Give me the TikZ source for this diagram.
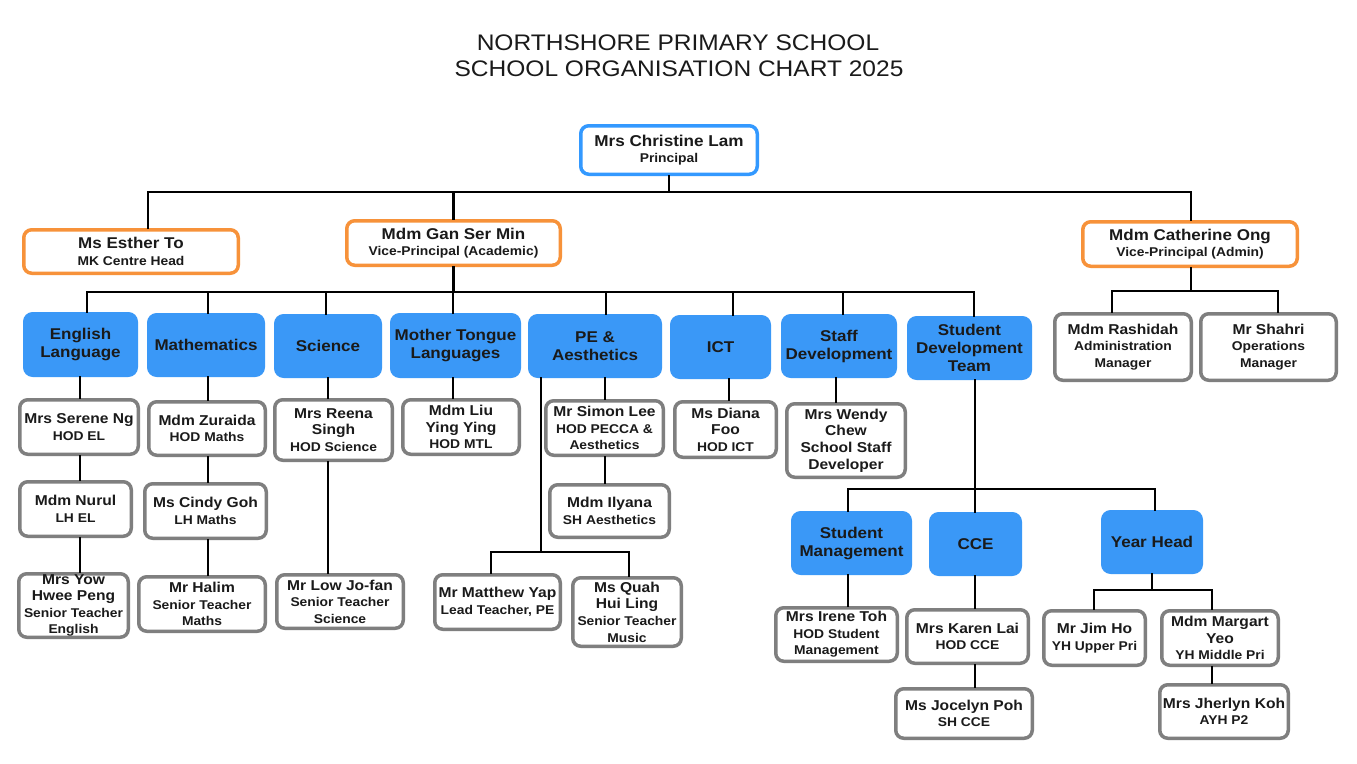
\documentclass[tikz,border=0pt]{standalone}
\usepackage{fontspec}
\setmainfont{Liberation Sans}[FakeStretch=1.09]
\definecolor{pblue}{HTML}{3399FF}
\definecolor{dblue}{HTML}{3A98F7}
\definecolor{orng}{HTML}{F7923A}
\definecolor{gry}{HTML}{7F7F7F}
\definecolor{ink}{HTML}{1A1A1A}
\newcommand{\nmf}{\fontsize{14.3}{16.6}\selectfont}
\newcommand{\rlf}{\fontsize{12.7}{14.5}\selectfont}
\newcommand{\vpf}{\fontsize{15.6}{17}\selectfont}
\newcommand{\dpf}{\fontsize{15.6}{18}\selectfont}
\newcommand{\mkbox}[7]{\node[#1, minimum width={(#5-(#3)-3.5)*1pt}, minimum height={(#6-(#4)-3.5)*1pt}] (#2) at ({(#3+#5)/2},{(#4+#6)/2}) {#7};}
\tikzset{
  basebox/.style={line width=3.5pt, rounded corners=8pt, align=center, inner sep=0pt, text=ink, font=\bfseries\nmf},
  pbox/.style={basebox, draw=pblue, fill=white},
  obox/.style={basebox, draw=orng, fill=white},
  gbox/.style={basebox, draw=gry, fill=white},
  dept/.style={basebox, draw=dblue, fill=dblue, font=\bfseries\dpf},
  conn/.style={draw=black, line width=2.7pt, line cap=rect},
}
\begin{document}
\begin{tikzpicture}[x=1pt,y=-1pt]
\useasboundingbox (0,0) rectangle (1357,763);
\fill[white] (0,0) rectangle (1357,763);
% title
\node[anchor=base, text=ink, font=\fontsize{22.5}{26}\selectfont] (ttlA) at (678,50) {NORTHSHORE PRIMARY SCHOOL};
\node[anchor=base, text=ink, font=\fontsize{22.5}{26}\selectfont] (ttlB) at (679,76) {SCHOOL ORGANISATION CHART 2025};
% leaders
\mkbox{pbox}{pr}{579}{124}{759}{176}{{\fontsize{15.7}{17}\selectfont Mrs Christine Lam}\\{\rlf Principal}}
\mkbox{obox}{est}{22}{228}{240}{275}{{\vpf Ms Esther To}\\{\rlf MK Centre Head}}
\mkbox{obox}{gan}{345}{219}{562}{267}{{\vpf Mdm Gan Ser Min}\\{\rlf Vice-Principal (Academic)}}
\mkbox{obox}{cat}{1081}{220}{1299}{268}{{\vpf Mdm Catherine Ong}\\{\rlf Vice-Principal (Admin)}}
% departments
\mkbox{dept}{el}{23}{312}{138}{377}{English\\Language}
\mkbox{dept}{ma}{147}{313}{265}{377}{Mathematics}
\mkbox{dept}{sc}{274}{314}{382}{378}{Science}
\mkbox{dept}{mt}{390}{313}{521}{378}{Mother Tongue\\Languages}
\mkbox{dept}{pe}{528}{314}{662}{378}{PE \&\\Aesthetics}
\mkbox{dept}{ict}{670}{315}{771}{379}{ICT}
\mkbox{dept}{sd}{781}{314}{897}{378}{Staff\\Development}
\mkbox{dept}{sdt}{907}{316}{1032}{380}{Student\\Development\\Team}
\mkbox{dept}{sm}{791}{511}{912}{575}{Student\\Management}
\mkbox{dept}{cce}{929}{512}{1022}{576}{CCE}
\mkbox{dept}{yh}{1101}{510}{1203}{574}{Year Head}
% staff
\mkbox{gbox}{ser}{18}{398}{140}{456}{Mrs Serene Ng\\{\rlf HOD EL}}
\mkbox{gbox}{zur}{147}{400}{267}{457}{Mdm Zuraida\\{\rlf HOD Maths}}
\mkbox{gbox}{ree}{273}{398}{394}{462}{Mrs Reena\\Singh\\{\rlf HOD Science}}
\mkbox{gbox}{liu}{401}{398}{521}{456}{Mdm Liu\\Ying Ying\\{\rlf HOD MTL}}
\mkbox{gbox}{sim}{544}{399}{665}{457}{Mr Simon Lee\\{\rlf HOD PECCA \&}\\{\rlf Aesthetics}}
\mkbox{gbox}{dia}{673}{400}{778}{459}{Ms Diana\\Foo\\{\rlf HOD ICT}}
\mkbox{gbox}{wen}{785}{402}{907}{479}{Mrs Wendy\\Chew\\School Staff\\Developer}
\mkbox{gbox}{nur}{18}{480}{133}{538}{Mdm Nurul\\{\rlf LH EL}}
\mkbox{gbox}{cin}{143}{482}{268}{540}{Ms Cindy Goh\\{\rlf LH Maths}}
\mkbox{gbox}{ily}{548}{483}{671}{539}{Mdm Ilyana\\{\rlf SH Aesthetics}}
\mkbox{gbox}{yow}{17}{572}{130}{639}{Mrs Yow\\Hwee Peng\\{\rlf Senior Teacher}\\{\rlf English}}
\mkbox{gbox}{hal}{137}{575}{267}{633}{Mr Halim\\{\rlf Senior Teacher}\\{\rlf Maths}}
\mkbox{gbox}{low}{275}{573}{405}{630}{Mr Low Jo-fan\\{\rlf Senior Teacher}\\{\rlf Science}}
\mkbox{gbox}{mat}{433}{573}{562}{631}{Mr Matthew Yap\\{\rlf Lead Teacher, PE}}
\mkbox{gbox}{qua}{571}{576}{683}{648}{Ms Quah\\Hui Ling\\{\rlf Senior Teacher}\\{\rlf Music}}
\mkbox{gbox}{ire}{774}{606}{899}{663}{Mrs Irene Toh\\{\rlf HOD Student}\\{\rlf Management}}
\mkbox{gbox}{kar}{905}{608}{1030}{665}{Mrs Karen Lai\\{\rlf HOD CCE}}
\mkbox{gbox}{joc}{894}{687}{1034}{740}{Ms Jocelyn Poh\\{\rlf SH CCE}}
\mkbox{gbox}{jim}{1042}{609}{1147}{667}{Mr Jim Ho\\{\rlf YH Upper Pri}}
\mkbox{gbox}{mar}{1160}{609}{1280}{667}{Mdm Margart\\Yeo\\{\rlf YH Middle Pri}}
\mkbox{gbox}{jhe}{1158}{683}{1290}{740}{Mrs Jherlyn Koh\\{\rlf AYH P2}}
\mkbox{gbox}{ras}{1053}{312}{1193}{382}{Mdm Rashidah\\{\rlf Administration}\\{\rlf Manager}}
\mkbox{gbox}{sha}{1199}{312}{1338}{382}{Mr Shahri\\{\rlf Operations}\\{\rlf Manager}}
% connector points
\coordinate (t0) at (148,192); \coordinate (t1) at (1191,192);
\coordinate (dEL) at (87,292); \coordinate (dMA) at (208,292); \coordinate (dSC) at (326,292);
\coordinate (dMT) at (453,292); \coordinate (dPE) at (606,292); \coordinate (dICT) at (733,292);
\coordinate (dSD) at (843,292); \coordinate (dSDT) at (974,292);
\coordinate (cEL) at (80,0); \coordinate (cMA) at (208,0); \coordinate (cSC) at (328,0);
\coordinate (cPE) at (605,0); \coordinate (cICT) at (729,0); \coordinate (cSD) at (836,0);
\coordinate (cSDT) at (975,0);
\coordinate (pL) at (541,552); \coordinate (pA) at (491,552); \coordinate (pB) at (629,552);
\coordinate (s0) at (848,489); \coordinate (s1) at (1155,489);
\coordinate (yc) at (1152,590); \coordinate (y0) at (1094,590); \coordinate (y1) at (1212,590);
\coordinate (rc) at (1191,291); \coordinate (r0) at (1112,291); \coordinate (r1) at (1278,291);
% top level
\draw[conn] (t0) -- (t1);
\draw[conn] (pr.south) -- (pr.south |- t0);
\draw[conn] (t0) -- (t0 |- est.north);
\draw[conn] (gan.north) -- (gan.north |- t0);
\draw[conn] (t1) -- (t1 |- cat.north);
% academic
\draw[conn] (gan.south) -- (gan.south |- dEL);
\draw[conn] (dEL) -- (dSDT);
\draw[conn] (dEL) -- (dEL |- el.north);
\draw[conn] (dMA) -- (dMA |- ma.north);
\draw[conn] (dSC) -- (dSC |- sc.north);
\draw[conn] (dMT) -- (dMT |- mt.north);
\draw[conn] (dPE) -- (dPE |- pe.north);
\draw[conn] (dICT) -- (dICT |- ict.north);
\draw[conn] (dSD) -- (dSD |- sd.north);
\draw[conn] (dSDT) -- (dSDT |- sdt.north);
% columns
\draw[conn] (cEL |- el.south) -- (cEL |- ser.north);
\draw[conn] (cEL |- ser.south) -- (cEL |- nur.north);
\draw[conn] (cEL |- nur.south) -- (cEL |- yow.north);
\draw[conn] (cMA |- ma.south) -- (cMA |- zur.north);
\draw[conn] (cMA |- zur.south) -- (cMA |- cin.north);
\draw[conn] (cMA |- cin.south) -- (cMA |- hal.north);
\draw[conn] (cSC |- sc.south) -- (cSC |- ree.north);
\draw[conn] (cSC |- ree.south) -- (cSC |- low.north);
\draw[conn] (dMT |- mt.south) -- (dMT |- liu.north);
\draw[conn] (cPE |- pe.south) -- (cPE |- sim.north);
\draw[conn] (cPE |- sim.south) -- (cPE |- ily.north);
\draw[conn] (pL |- pe.south) -- (pL);
\draw[conn] (pA |- mat.north) -- (pA) -- (pB) -- (pB |- qua.north);
\draw[conn] (cICT |- ict.south) -- (cICT |- dia.north);
\draw[conn] (cSD |- sd.south) -- (cSD |- wen.north);
% student development
\draw[conn] (cSDT |- sdt.south) -- (cSDT |- cce.north);
\draw[conn] (s0 |- sm.north) -- (s0) -- (s1) -- (s1 |- yh.north);
\draw[conn] (s0 |- sm.south) -- (s0 |- ire.north);
\draw[conn] (cSDT |- cce.south) -- (cSDT |- kar.north);
\draw[conn] (cSDT |- kar.south) -- (cSDT |- joc.north);
\draw[conn] (yc |- yh.south) -- (yc);
\draw[conn] (y0 |- jim.north) -- (y0) -- (y1) -- (y1 |- mar.north);
\draw[conn] (y1 |- mar.south) -- (y1 |- jhe.north);
% admin
\draw[conn] (rc |- cat.south) -- (rc);
\draw[conn] (r0 |- ras.north) -- (r0) -- (r1) -- (r1 |- sha.north);
\end{tikzpicture}
\end{document}
